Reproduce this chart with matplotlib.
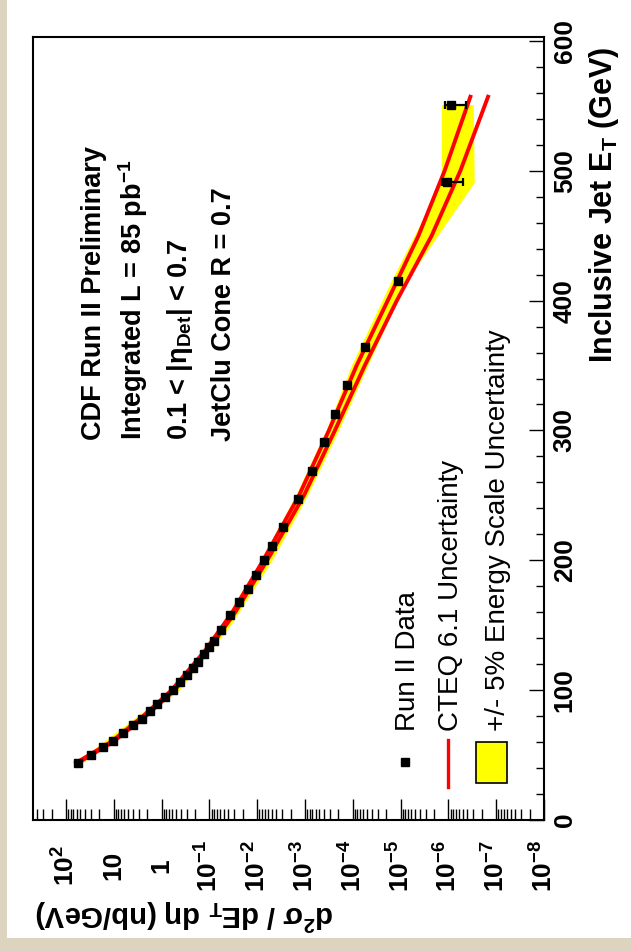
import numpy as np
import matplotlib
matplotlib.use("Agg")
import matplotlib.pyplot as plt
from matplotlib.patches import Rectangle
from matplotlib.ticker import LogLocator, NullFormatter, MultipleLocator

plt.rcParams['font.family'] = ['Liberation Sans', 'DejaVu Sans']
plt.rcParams['mathtext.fontset'] = 'custom'
plt.rcParams['mathtext.rm'] = 'Liberation Sans:bold'
plt.rcParams['mathtext.it'] = 'Liberation Sans:bold:italic'
plt.rcParams['mathtext.bf'] = 'Liberation Sans:bold'
plt.rcParams['mathtext.default'] = 'rm'

# Run II data: E_T (GeV) and d2sigma/dE_T deta (nb/GeV)
data_et = [44, 50, 56, 61, 67, 73, 78, 84, 89, 95, 100, 106, 112, 117, 122,
           128, 133, 138, 146, 158, 168, 178, 189, 200, 211, 226, 247, 269,
           291, 313, 335, 364, 415, 491, 551]
data_xs = [56.2, 30.2, 17.0, 10.5, 6.31, 3.89, 2.63, 1.74, 1.23, 0.832,
           0.575, 0.407, 0.295, 0.224, 0.174, 0.129, 0.102, 0.0813, 0.0575,
           0.0363, 0.0240, 0.0158, 0.0105, 7.08e-3, 4.79e-3, 2.88e-3,
           1.41e-3, 7.08e-4, 3.98e-4, 2.40e-4, 1.32e-4, 5.62e-5, 1.15e-5,
           1.05e-6, 8.7e-7]
# visible error bars only on the last two bins
data_err_up = [0] * 33 + [0.30e-6, 0.30e-6]
data_err_dn = [0] * 33 + [0.55e-6, 0.45e-6]

# CTEQ 6.1 uncertainty, upper and lower curves
cteq_et = [44, 60, 80, 100, 130, 160, 200, 250, 300, 350, 400, 450, 500, 557]
cteq_hi = [61.7, 11.5, 2.43, 0.617, 0.126, 0.0331, 7.50e-3, 1.33e-3,
           3.16e-4, 8.32e-5, 1.86e-5, 4.22e-6, 1.20e-6, 3.47e-7]
cteq_lo = [56.2, 10.5, 2.14, 0.537, 0.110, 0.0288, 6.17e-3, 1.05e-3,
           2.37e-4, 5.62e-5, 1.20e-5, 2.24e-6, 5.62e-7, 1.48e-7]

# +/- 5% energy scale band
escale_et = [44, 100, 150, 200, 250, 300, 350, 415, 491, 551]
escale_hi = [63.1, 0.631, 0.0575, 8.32e-3, 1.58e-3, 3.63e-4, 1.07e-4,
             1.58e-5, 1.41e-6, 1.41e-6]
escale_lo = [45.7, 0.427, 0.0363, 4.90e-3, 8.91e-4, 2.00e-4, 4.90e-5,
             7.59e-6, 2.88e-7, 3.02e-7]

xs_ticks = [1e2, 1e1, 1, 1e-1, 1e-2, 1e-3, 1e-4, 1e-5, 1e-6, 1e-7, 1e-8]
xs_labels = [r'$10^{2}$', '10', '1', r'$10^{-1}$', r'$10^{-2}$', r'$10^{-3}$',
             r'$10^{-4}$', r'$10^{-5}$', r'$10^{-6}$', r'$10^{-7}$',
             r'$10^{-8}$']
et_ticks = [0, 100, 200, 300, 400, 500, 600]

W, H = 631, 951
AX_L, AX_R, AX_T, AX_B = 33, 544, 37, 820


def fx(px):
    return px / W


def fy(py):
    return 1 - py / H


def axx(px):
    return (px - AX_L) / (AX_R - AX_L)


def axy(py):
    return (AX_B - py) / (AX_B - AX_T)


fig = plt.figure(figsize=(W / 100, H / 100), dpi=100)
fig.patch.set_facecolor('#ddd4bf')
fig.add_artist(Rectangle((fx(7), fy(938)), 1 - fx(7), 938 / H,
                         transform=fig.transFigure, facecolor='white',
                         edgecolor='none', zorder=-10))

ax = fig.add_axes([fx(AX_L), fy(AX_B), (AX_R - AX_L) / W, (AX_B - AX_T) / H])
ax.set_xscale('log')
ax.set_xlim(490, 1.05e-8)
ax.set_ylim(0, 603)

# the chart is drawn rotated: E_T runs upward, cross section runs right
ax.fill_betweenx(escale_et, escale_lo, escale_hi, color='#ffff00', lw=0, zorder=1)
ax.plot(cteq_hi, cteq_et, color='#ff0000', lw=2.8, zorder=2)
ax.plot(cteq_lo, cteq_et, color='#ff0000', lw=2.8, zorder=2)

et = np.array(data_et)
xs = np.array(data_xs)
eu = np.array(data_err_up)
ed = np.array(data_err_dn)
has_err = (eu > 0) | (ed > 0)
ax.errorbar(xs[has_err], et[has_err], xerr=[ed[has_err], eu[has_err]], fmt='none',
            ecolor='black', elinewidth=1.6, capsize=3, capthick=1.6, zorder=3)
ax.plot(xs, et, 's', color='black', ms=5.5, zorder=4)

for sp in ax.spines.values():
    sp.set_linewidth(1.5)

# cross-section axis (bottom)
ax.xaxis.set_minor_locator(LogLocator(base=10, subs=np.arange(2, 10), numticks=200))
ax.xaxis.set_minor_formatter(NullFormatter())
ax.tick_params(axis='x', which='major', direction='in', length=15, width=1,
               top=False, bottom=True, pad=33)
ax.tick_params(axis='x', which='minor', direction='in', length=8, width=1,
               top=False, bottom=True)
ax.set_xticks(xs_ticks, labels=xs_labels, rotation=90, ha='center', va='center',
              fontsize=19, fontweight='bold')

# E_T axis (right)
ax.yaxis.tick_right()
ax.yaxis.set_minor_locator(MultipleLocator(20))
ax.tick_params(axis='y', which='major', direction='in', length=11, width=1,
               left=False, right=True, labelleft=False, labelright=True, pad=15)
ax.tick_params(axis='y', which='minor', direction='in', length=5.5, width=1,
               left=False, right=True)
ax.set_yticks(et_ticks, labels=[str(v) for v in et_ticks], rotation=90,
              ha='center', va='center', fontsize=19, fontweight='bold')

# axis titles
fig.text(fx(612), fy(47), r'Inclusive Jet E$_{T}$ (GeV)', rotation=90,
         rotation_mode='anchor', ha='right', va='baseline', fontsize=22,
         fontweight='bold')
fig.text(fx(334), fy(905), r'd$^{2}\sigma$ / dE$_{T}$ d$\eta$ (nb/GeV)',
         rotation=180, rotation_mode='anchor', ha='left', va='baseline',
         fontsize=21, fontweight='bold')

# run conditions
info = [('CDF Run II Preliminary', 101, 440),
        (r'Integrated L = 85 pb$^{-1}$', 142, 440),
        (r'0.1 < |$\eta_{Det}$| < 0.7', 187, 440),
        ('JetClu Cone R = 0.7', 231, 441)]
for txt, bx, by in info:
    fig.text(fx(bx), fy(by), txt, rotation=90, rotation_mode='anchor',
             ha='left', va='baseline', fontsize=19.5, fontweight='bold')

# legend, drawn by hand because it is rotated
ax.plot([axx(405)], [axy(762)], 's', color='black', ms=5.5,
        transform=ax.transAxes, clip_on=False)
ax.plot([axx(448), axx(448)], [axy(740), axy(787)], color='#ff0000', lw=2.4,
        transform=ax.transAxes, clip_on=False)
ax.add_patch(Rectangle((axx(476), axy(783)), axx(507) - axx(476),
                       axy(742) - axy(783), transform=ax.transAxes,
                       facecolor='#ffff00', edgecolor='black', lw=1.2))
legend_rows = [('Run II Data', 415), ('CTEQ 6.1 Uncertainty', 458),
               ('+/- 5% Energy Scale Uncertainty', 505)]
for txt, bx in legend_rows:
    fig.text(fx(bx), fy(731), txt, rotation=90, rotation_mode='anchor',
             ha='left', va='baseline', fontsize=20)

fig.savefig('out.png', dpi=100)
